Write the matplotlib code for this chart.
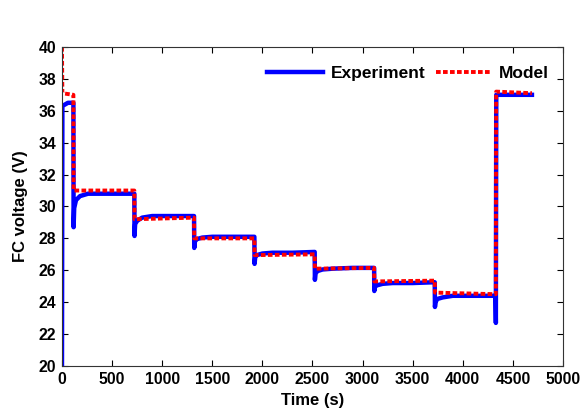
import matplotlib
matplotlib.use("Agg")
import matplotlib.pyplot as plt

exp_t = [0, 4, 60, 114,
         116, 122, 140, 180, 260, 400, 722,
         724, 730, 750, 800, 900, 1100, 1318,
         1320, 1326, 1345, 1400, 1500, 1700, 1920,
         1922, 1928, 1945, 2000, 2100, 2300, 2522,
         2524, 2530, 2550, 2600, 2700, 2900, 3115,
         3117, 3123, 3140, 3200, 3300, 3500, 3720,
         3722, 3728, 3745, 3800, 3900, 4100, 4326,
         4330, 4334, 4500, 4690]
exp_v = [20.0, 36.3, 36.5, 36.5,
         28.7, 29.9, 30.4, 30.65, 30.8, 30.8, 30.8,
         28.15, 28.9, 29.1, 29.3, 29.4, 29.4, 29.4,
         27.4, 27.8, 27.95, 28.05, 28.1, 28.1, 28.1,
         26.4, 26.8, 26.95, 27.05, 27.1, 27.1, 27.15,
         25.4, 25.8, 25.95, 26.05, 26.1, 26.15, 26.15,
         24.7, 24.95, 25.05, 25.15, 25.2, 25.2, 25.25,
         23.7, 24.0, 24.2, 24.3, 24.4, 24.4, 24.4,
         22.7, 37.0, 37.0, 37.0]

# Model output
mod_t = [0, 4, 114, 116, 722, 724, 1318, 1320, 1920, 1922,
         2522, 2524, 3115, 3117, 3720, 3722, 4330, 4333, 4690]
mod_v = [40.0, 37.1, 37.0, 31.0, 31.0, 29.2, 29.3, 28.0, 28.0, 26.95,
         27.0, 26.1, 26.15, 25.3, 25.35, 24.6, 24.5, 37.2, 37.1]

plt.rcParams['font.family'] = ['Liberation Sans', 'DejaVu Sans']
plt.rcParams['font.weight'] = 'bold'

fig = plt.figure(figsize=(5.83, 4.12), dpi=100)
ax = fig.add_axes([0.1063, 0.1117, 0.8594, 0.7743])

ax.plot(exp_t, exp_v, color='#0000ff', lw=3.2, label='Experiment')
ax.plot(mod_t, mod_v, color='#ff0000', lw=2.8, ls=(0, (1.2, 0.6)), label='Model')

ax.set_xlim(0, 5000)
ax.set_ylim(20, 40)
ax.set_xticks(range(0, 5001, 500))
ax.set_yticks(range(20, 41, 2))
ax.tick_params(direction='in', top=True, right=True, length=4, labelsize=11.3, pad=4)
for lab in ax.get_xticklabels() + ax.get_yticklabels():
    lab.set_fontweight('bold')
for sp in ax.spines.values():
    sp.set_color('#333333')

ax.set_xlabel('Time (s)', fontsize=12, fontweight='bold', labelpad=5)
ax.set_ylabel('FC voltage (V)', fontsize=12, fontweight='bold', labelpad=8)

ax.legend(loc='center right', ncol=2, frameon=False, fontsize=12.5,
          handlelength=3.2, columnspacing=0.6, handletextpad=0.45,
          borderpad=0, borderaxespad=0, bbox_to_anchor=(0.972, 0.918))

fig.savefig('out.png', dpi=100)
